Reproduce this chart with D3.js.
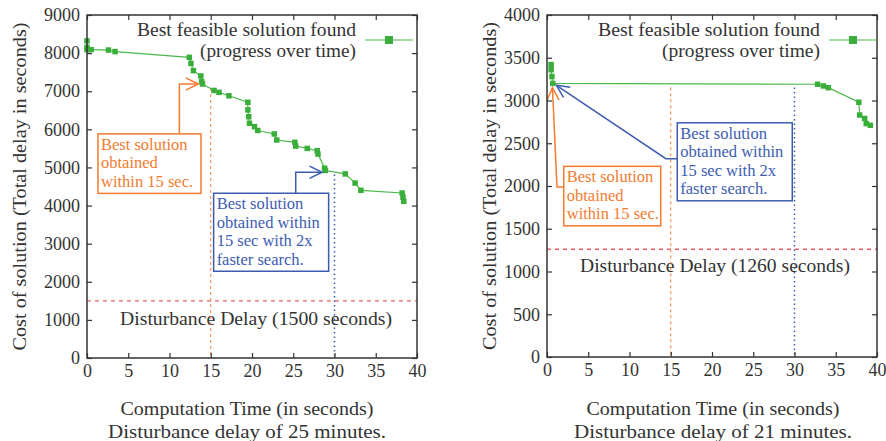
<!DOCTYPE html>
<html lang="en">
<head>
<meta charset="UTF-8">
<title>Best feasible solution over time</title>
<script src="https://cdnjs.cloudflare.com/ajax/libs/d3/7.8.5/d3.min.js"></script>
<style>
  body { margin: 0; background: #fff; }
</style>
</head>
<body>
<div id="draw-here"></div>
<script>
// ---- data ----
// left panel: disturbance delay of 25 minutes
var leftTime  = [0, 0, 0, 0.5, 2.6, 3.4, 12.4, 12.6, 12.9, 13.8, 13.9, 14.0, 15.4, 16.0, 17.2, 19.5, 19.5, 19.6, 19.7, 20.3, 20.7, 22.7, 23.0, 25.2, 25.3, 26.7, 27.9, 28.0, 28.8, 28.9, 31.3, 32.5, 33.2, 38.2, 38.3, 38.4];
var leftCost  = [8320, 8150, 8090, 8090, 8080, 8040, 7890, 7730, 7540, 7400, 7250, 7190, 7020, 6970, 6880, 6710, 6510, 6330, 6160, 6070, 5970, 5880, 5720, 5660, 5560, 5500, 5440, 5350, 4980, 4920, 4830, 4590, 4400, 4330, 4220, 4110];
// right panel: disturbance delay of 21 minutes
var rightTime = [0.5, 0.5, 0.6, 0.7, 32.8, 33.5, 34.1, 37.8, 37.9, 38.5, 38.7, 39.2];
var rightCost = [3420, 3360, 3280, 3200, 3190, 3170, 3150, 2980, 2830, 2790, 2730, 2710];

var xTicks = [0, 5, 10, 15, 20, 25, 30, 35, 40];
var leftYTicks  = [0, 1000, 2000, 3000, 4000, 5000, 6000, 7000, 8000, 9000];
var rightYTicks = [0, 500, 1000, 1500, 2000, 2500, 3000, 3500, 4000];

var leftDisturbance = 1500;
var rightDisturbance = 1260;
var guideTimes = [15, 30];
var leftGuideTop = [7190, 4920];
var rightGuideTop = [3200, 3200];

var legendLines = ["Best feasible solution found", "(progress over time)"];
var xLabel = "Computation Time (in seconds)";
var yLabel = "Cost of solution (Total delay in seconds)";
var orangeNote = ["Best solution", "obtained", "within 15 sec."];
var blueNote = ["Best solution", "obtained within", "15 sec with 2x", "faster search."];

// ---- drawing ----
var W = 886, H = 441;
var FONT = "Liberation Serif, DejaVu Serif, serif";
var GREEN = "#4cb84c", ORANGE = "#f47b30", BLUE = "#3d5cb0", RED = "#f0606a";

var svg = d3.select("#draw-here").append("svg")
    .attr("width", W).attr("height", H)
    .attr("font-family", FONT);

var panels = [
  {
    left: 87, right: 417, top: 15, bottom: 358,
    yMax: 9000, yTicks: leftYTicks, time: leftTime, cost: leftCost,
    disturbance: leftDisturbance, guideTop: leftGuideTop,
    disturbanceText: "Disturbance Delay (1500 seconds)", dText: [256, 325, 272],
    caption: "Disturbance delay of 25 minutes.", labelX: 247, yLabelX: 26,
    legendEnd: 356, legendLen: [219, 156],
    notes: [
      { color: ORANGE, lines: orangeNote, box: [1.33, 5880], w: 103,
        path: [[11.2, 5880], [11.2, 7190], [13.5, 7190]] },
      { color: BLUE, lines: blueNote, box: [15.35, 4323], w: 115,
        path: [[25.3, 4323], [25.3, 4874], [28.5, 4874]] }
    ]
  },
  {
    left: 547, right: 877, top: 15, bottom: 357,
    yMax: 4000, yTicks: rightYTicks, time: rightTime, cost: rightCost,
    disturbance: rightDisturbance, guideTop: rightGuideTop,
    disturbanceText: "Disturbance Delay (1260 seconds)", dText: [715, 272, 270],
    caption: "Disturbance delay of 21 minutes.", labelX: 713, yLabelX: 496,
    legendEnd: 820, legendLen: [222, 158],
    notes: [
      { color: ORANGE, lines: orangeNote, box: [2.03, 2230], w: 97,
        path: [[2.03, 1988], [1.21, 1988], [0.66, 3150]] },
      { color: BLUE, lines: blueNote, box: [15.79, 2739], w: 115,
        path: [[15.79, 2320], [14.41, 2320], [1.14, 3178]] }
    ]
  }
];

panels.forEach(draw_panel);

function draw_panel(p) {
  var x = d3.scaleLinear().domain([0, 40]).range([p.left, p.right]);
  var y = d3.scaleLinear().domain([0, p.yMax]).range([p.bottom, p.top]);
  var g = svg.append("g");

  // disturbance delay line
  g.append("line")
      .attr("x1", x(0)).attr("x2", x(40))
      .attr("y1", y(p.disturbance)).attr("y2", y(p.disturbance))
      .attr("stroke", RED).attr("stroke-width", 1.3)
      .attr("stroke-dasharray", "4,4");
  g.append("text")
      .attr("x", p.dText[0]).attr("y", p.dText[1])
      .attr("text-anchor", "middle").attr("font-size", 18).attr("fill", "#333")
      .attr("textLength", p.dText[2]).attr("lengthAdjust", "spacingAndGlyphs")
      .text(p.disturbanceText);

  // 15 s and 30 s guides
  guideTimes.forEach(function(t, i) {
    g.append("line")
        .attr("x1", x(t)).attr("x2", x(t))
        .attr("y1", y(p.guideTop[i]) + 4).attr("y2", y(0))
        .attr("stroke", i == 0 ? ORANGE : BLUE)
        .attr("stroke-width", i == 0 ? 1 : 1.5)
        .attr("stroke-dasharray", i == 0 ? "3,3" : "1.5,3");
  });

  // progress line and markers
  var pts = p.time.map(function(t, i) { return [t, p.cost[i]]; });
  g.append("path")
      .datum(pts)
      .attr("fill", "none").attr("stroke", GREEN).attr("stroke-width", 1.2)
      .attr("d", d3.line().x(function(d) { return x(d[0]); }).y(function(d) { return y(d[1]); }));
  g.selectAll("rect.pt").data(pts).enter().append("rect")
      .attr("class", "pt")
      .attr("x", function(d) { return x(d[0]) - 2.75; })
      .attr("y", function(d) { return y(d[1]) - 2.75; })
      .attr("width", 5.5).attr("height", 5.5)
      .attr("fill", "#3aae3a");

  // annotations
  p.notes.forEach(function(n) {
    var bx = x(n.box[0]), by = y(n.box[1]);
    var bh = n.lines.length * 18.5 + 4;
    var line = d3.line().x(function(d) { return x(d[0]); }).y(function(d) { return y(d[1]); });
    g.append("path").datum(n.path)
        .attr("fill", "none").attr("stroke", n.color).attr("stroke-width", 1.5)
        .attr("d", line);
    var a = n.path[n.path.length - 1], b = n.path[n.path.length - 2];
    var tx = x(a[0]), ty = y(a[1]);
    var ang = Math.atan2(ty - y(b[1]), tx - x(b[0]));
    var wings = [ang + Math.PI - 0.45, ang + Math.PI + 0.45].map(function(q) {
      return [tx + 14 * Math.cos(q), ty + 14 * Math.sin(q)];
    });
    g.append("path")
        .attr("fill", "none").attr("stroke", n.color).attr("stroke-width", 1.5)
        .attr("d", "M" + wings[0] + "L" + tx + "," + ty + "L" + wings[1]);
    g.append("rect")
        .attr("x", bx).attr("y", by).attr("width", n.w).attr("height", bh)
        .attr("fill", "#fff").attr("stroke", n.color).attr("stroke-width", 1.5);
    n.lines.forEach(function(s, i) {
      g.append("text")
          .attr("x", bx + 3).attr("y", by + 16 + i * 18.5)
          .attr("font-size", 16.5).attr("fill", n.color)
          .text(s);
    });
  });

  // frame and axes
  g.append("rect")
      .attr("x", p.left).attr("y", p.top)
      .attr("width", p.right - p.left).attr("height", p.bottom - p.top)
      .attr("fill", "none").attr("stroke", "#333").attr("stroke-width", 1.5);

  var fmt = d3.format("d");
  var ax = [
    [d3.axisBottom(x).tickValues(xTicks).tickFormat(fmt).tickPadding(6), p.bottom, 0],
    [d3.axisTop(x).tickValues(xTicks).tickFormat(""), p.top, 0],
    [d3.axisLeft(y).tickValues(p.yTicks).tickFormat(fmt).tickPadding(7), 0, p.left],
    [d3.axisRight(y).tickValues(p.yTicks).tickFormat(""), 0, p.right]
  ];
  ax.forEach(function(a) {
    var ag = g.append("g")
        .attr("transform", "translate(" + a[2] + "," + a[1] + ")")
        .call(a[0].tickSize(-5));
    ag.attr("font-family", FONT).attr("font-size", 18);
    ag.select(".domain").remove();
    ag.selectAll(".tick line").attr("stroke", "#333").attr("stroke-width", 1.2);
    ag.selectAll(".tick text").attr("fill", "#333");
  });

  // labels
  g.append("text")
      .attr("x", p.labelX).attr("y", 415)
      .attr("text-anchor", "middle").attr("font-size", 18).attr("fill", "#333")
      .attr("textLength", 253).attr("lengthAdjust", "spacingAndGlyphs")
      .text(xLabel);
  g.append("text")
      .attr("x", p.labelX).attr("y", 438)
      .attr("text-anchor", "middle").attr("font-size", 18).attr("fill", "#333")
      .attr("textLength", 278).attr("lengthAdjust", "spacingAndGlyphs")
      .text(p.caption);
  g.append("text")
      .attr("transform", "translate(" + p.yLabelX + "," + ((p.top + p.bottom) / 2) + ") rotate(-90)")
      .attr("text-anchor", "middle").attr("font-size", 18).attr("fill", "#333")
      .attr("textLength", 328).attr("lengthAdjust", "spacingAndGlyphs")
      .text(yLabel);

  // legend
  legendLines.forEach(function(s, i) {
    g.append("text")
        .attr("x", p.legendEnd).attr("y", 36 + i * 21)
        .attr("text-anchor", "end").attr("font-size", 18).attr("fill", "#333")
        .attr("textLength", p.legendLen[i]).attr("lengthAdjust", "spacingAndGlyphs")
        .text(s);
  });
  var lx = p.legendEnd + 9, ly = 40;
  g.append("line")
      .attr("x1", lx).attr("x2", lx + 48).attr("y1", ly).attr("y2", ly)
      .attr("stroke", GREEN).attr("stroke-width", 1.2);
  g.append("rect")
      .attr("x", lx + 24 - 4).attr("y", ly - 4).attr("width", 8).attr("height", 8)
      .attr("fill", "#3aae3a");
}
</script>
</body>
</html>
